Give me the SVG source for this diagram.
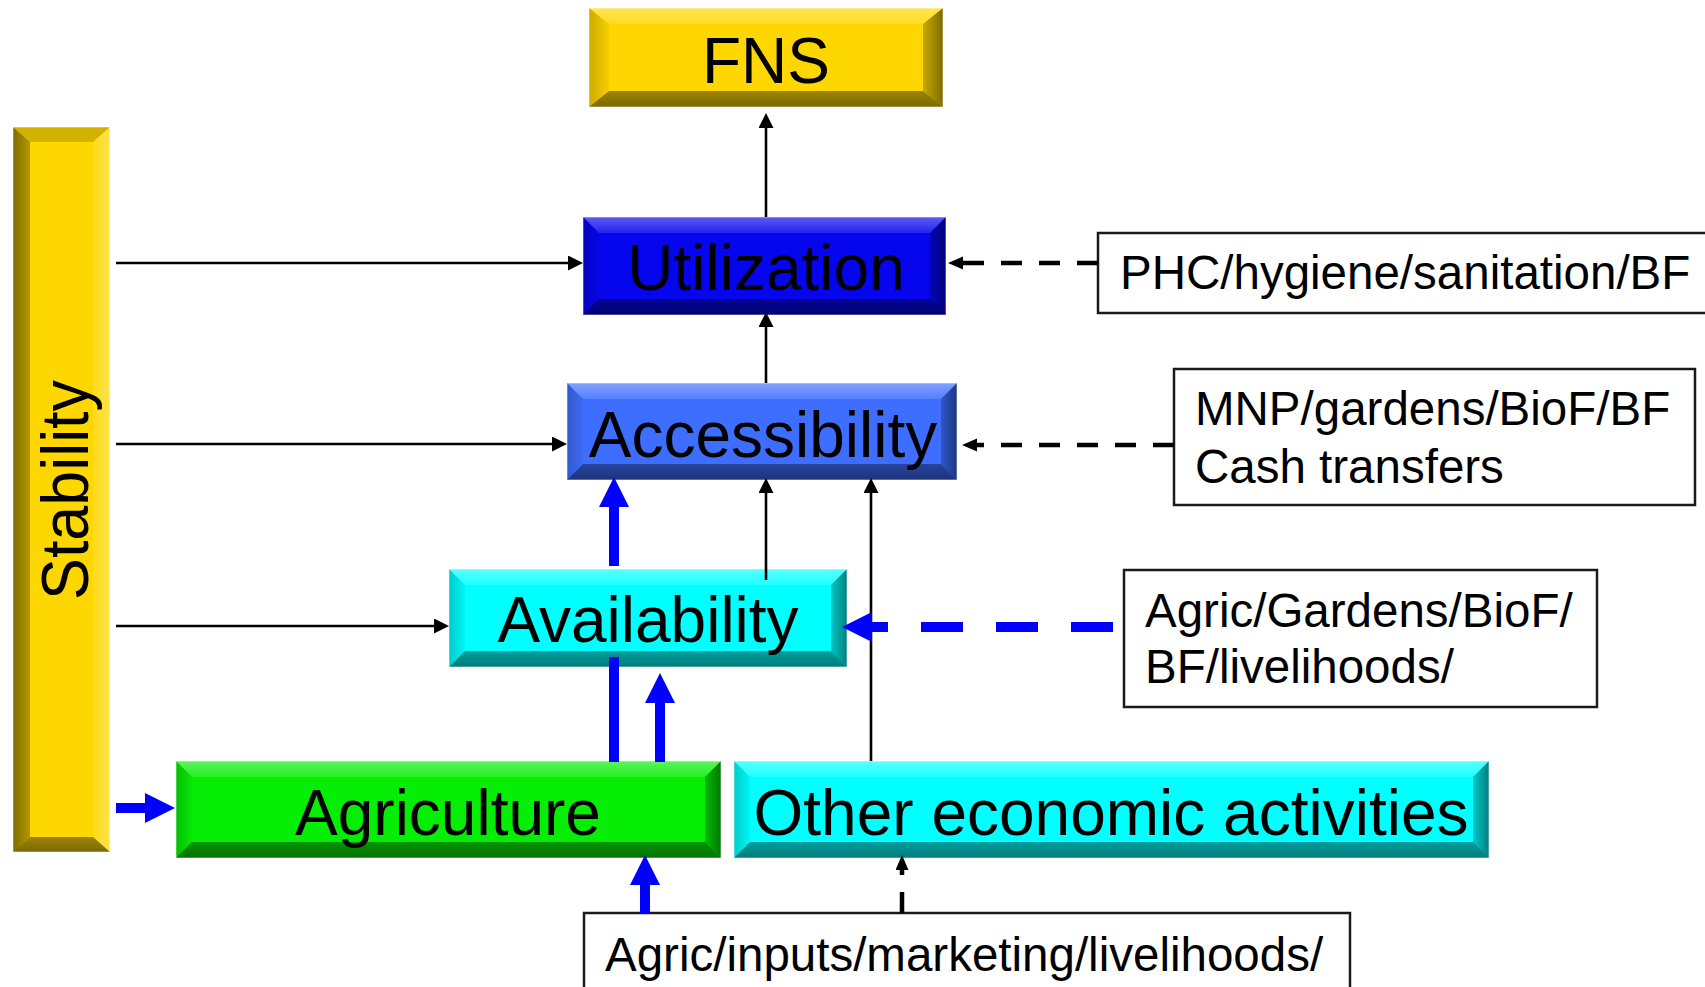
<svg xmlns="http://www.w3.org/2000/svg" width="1705" height="987" viewBox="0 0 1705 987">
<defs>
<style>
.t{font-family:"Liberation Sans",Arial,sans-serif;fill:#000}
.big{font-size:64px;text-anchor:middle}
.lbl{font-size:47.5px}
.ft{fill:url(#gTop)}
.fl{fill:url(#gLeft)}
.fr{fill:url(#gRight)}
.fb{fill:url(#gBot)}
.rim{fill:none;stroke:#ffffff;stroke-opacity:0.45;stroke-width:1.2}
.box{fill:#ffffff;stroke:#1a1a1a;stroke-width:2.5}
.thin{fill:none;stroke:#000;stroke-width:2.6;marker-end:url(#mBlack)}
.dash{fill:none;stroke:#000;stroke-width:4.5;stroke-dasharray:21 17;marker-end:url(#mDash)}
.blue{fill:none;stroke:#0000FF;stroke-width:10}
.bluea{fill:none;stroke:#0000FF;stroke-width:10;marker-end:url(#mBlue)}
.bdash{fill:none;stroke:#0000FF;stroke-width:10;stroke-dasharray:42 33;marker-end:url(#mBlue)}
</style>
<linearGradient id="gTop" x1="0" y1="0" x2="0" y2="1">
<stop offset="0" stop-color="#fff" stop-opacity="0.35"/>
<stop offset="1" stop-color="#fff" stop-opacity="0.12"/>
</linearGradient>
<linearGradient id="gLeft" x1="0" y1="0" x2="1" y2="0">
<stop offset="0" stop-color="#000" stop-opacity="0.2"/>
<stop offset="1" stop-color="#000" stop-opacity="0.04"/>
</linearGradient>
<linearGradient id="gRight" x1="0" y1="0" x2="1" y2="0">
<stop offset="0" stop-color="#000" stop-opacity="0.22"/>
<stop offset="1" stop-color="#000" stop-opacity="0.5"/>
</linearGradient>
<linearGradient id="gBot" x1="0" y1="0" x2="0" y2="1">
<stop offset="0" stop-color="#000" stop-opacity="0.38"/>
<stop offset="1" stop-color="#000" stop-opacity="0.52"/>
</linearGradient>
<linearGradient id="sRight" x1="0" y1="0" x2="1" y2="0">
<stop offset="0" stop-color="#fff" stop-opacity="0.1"/>
<stop offset="1" stop-color="#fff" stop-opacity="0.3"/>
</linearGradient>
<linearGradient id="sLeft" x1="0" y1="0" x2="1" y2="0">
<stop offset="0" stop-color="#000" stop-opacity="0.5"/>
<stop offset="1" stop-color="#000" stop-opacity="0.3"/>
</linearGradient>
<marker id="mBlack" markerUnits="userSpaceOnUse" markerWidth="16" markerHeight="15" refX="11" refY="7.5" orient="auto">
<path d="M0,0 L15,7.5 L0,15 Z" fill="#000"/>
</marker>
<marker id="mDash" markerUnits="userSpaceOnUse" markerWidth="16" markerHeight="14" refX="0" refY="6.5" orient="auto">
<path d="M0,0 L15,6.5 L0,13 Z" fill="#000"/>
</marker>
<marker id="mBlue" markerUnits="userSpaceOnUse" markerWidth="31" markerHeight="31" refX="0" refY="15" orient="auto">
<path d="M0,0 L30,15 L0,30 Z" fill="#0000FF"/>
</marker>
</defs>
<rect width="1705" height="987" fill="#ffffff"/>

<g id="node-fns">
<rect x="589" y="8" width="354" height="99" fill="#FFD700"/>
<polygon class="ft" points="589,8 943,8 923,24 609,24"/>
<polygon class="fl" points="589,8 609,24 609,91 589,107"/>
<polygon class="fr" points="943,8 943,107 923,91 923,24"/>
<polygon class="fb" points="589,107 609,91 923,91 943,107"/>
<rect class="rim" x="589" y="8" width="354" height="99"/>
<text class="t big" x="766" y="83">FNS</text>
</g>

<g id="node-stability">
<rect x="13" y="127" width="97" height="725" fill="#FFD700"/>
<polygon fill="#000" fill-opacity="0.17" points="13,127 110,127 93,142 30,142"/>
<polygon fill="url(#sLeft)" points="13,127 30,142 30,837 13,852"/>
<polygon fill="url(#sRight)" points="110,127 110,852 93,837 93,142"/>
<polygon class="fb" points="13,852 30,837 93,837 110,852"/>
<rect class="rim" x="13" y="127" width="97" height="725"/>
<text class="t" font-size="66" text-anchor="middle" textLength="220" lengthAdjust="spacingAndGlyphs" transform="translate(88,490) rotate(-90)">Stability</text>
</g>

<g id="node-utilization">
<rect x="583" y="217" width="363" height="98" fill="#0505EE"/>
<polygon class="ft" points="583,217 946,217 930,233 599,233"/>
<polygon class="fl" points="583,217 599,233 599,299 583,315"/>
<polygon class="fr" points="946,217 946,315 930,299 930,233"/>
<polygon class="fb" points="583,315 599,299 930,299 946,315"/>
<rect class="rim" x="583" y="217" width="363" height="98"/>
<text class="t big" x="766" y="290">Utilization</text>
</g>

<g id="node-accessibility">
<rect x="567" y="383" width="390" height="97" fill="#3E6EFF"/>
<polygon class="ft" points="567,383 957,383 941,399 583,399"/>
<polygon class="fl" points="567,383 583,399 583,464 567,480"/>
<polygon class="fr" points="957,383 957,480 941,464 941,399"/>
<polygon class="fb" points="567,480 583,464 941,464 957,480"/>
<rect class="rim" x="567" y="383" width="390" height="97"/>
<text class="t big" x="763" y="457">Accessibility</text>
</g>

<g id="node-availability">
<rect x="449" y="569" width="398" height="98" fill="#00FFFF"/>
<polygon class="ft" points="449,569 847,569 831,585 465,585"/>
<polygon class="fl" points="449,569 465,585 465,651 449,667"/>
<polygon class="fr" points="847,569 847,667 831,651 831,585"/>
<polygon class="fb" points="449,667 465,651 831,651 847,667"/>
<rect class="rim" x="449" y="569" width="398" height="98"/>
<text class="t big" x="648" y="642">Availability</text>
</g>

<g id="node-agriculture">
<rect x="176" y="761" width="545" height="97" fill="#06EE06"/>
<polygon class="ft" points="176,761 721,761 705,777 192,777"/>
<polygon class="fl" points="176,761 192,777 192,842 176,858"/>
<polygon class="fr" points="721,761 721,858 705,842 705,777"/>
<polygon class="fb" points="176,858 192,842 705,842 721,858"/>
<rect class="rim" x="176" y="761" width="545" height="97"/>
<text class="t big" x="448" y="835">Agriculture</text>
</g>

<g id="node-other">
<rect x="734" y="761" width="755" height="97" fill="#00FFFF"/>
<polygon class="ft" points="734,761 1489,761 1473,777 750,777"/>
<polygon class="fl" points="734,761 750,777 750,842 734,858"/>
<polygon class="fr" points="1489,761 1489,858 1473,842 1473,777"/>
<polygon class="fb" points="734,858 750,842 1473,842 1489,858"/>
<rect class="rim" x="734" y="761" width="755" height="97"/>
<text class="t big" x="1111" y="835">Other economic activities</text>
</g>

<g id="node-phc">
<rect class="box" x="1098" y="233" width="640" height="80"/>
<text class="t lbl" x="1120" y="289">PHC/hygiene/sanitation/BF</text>
</g>

<g id="node-mnp">
<rect class="box" x="1174" y="369" width="521" height="136"/>
<text class="t lbl" x="1195" y="425">MNP/gardens/BioF/BF</text>
<text class="t lbl" x="1195" y="483">Cash transfers</text>
</g>

<g id="node-agric-gardens">
<rect class="box" x="1124" y="570" width="473" height="137"/>
<text class="t lbl" x="1145" y="627">Agric/Gardens/BioF/</text>
<text class="t lbl" x="1145" y="683">BF/livelihoods/</text>
</g>

<g id="node-agric-inputs">
<rect class="box" x="584" y="913" width="766" height="100"/>
<text class="t lbl" x="605" y="971">Agric/inputs/marketing/livelihoods/</text>
</g>

<g id="connectors">
<path class="thin" d="M116,263 H579"/>
<path class="thin" d="M116,444 H563"/>
<path class="thin" d="M116,626 H445"/>
<path class="thin" d="M766,217 V117"/>
<path class="thin" d="M766,383 V316"/>
<path class="thin" d="M766,580 V482"/>
<path class="thin" d="M871,761 V482"/>
<path class="dash" d="M1098,263 H963"/>
<path class="dash" d="M1174,445 H977"/>
<path class="dash" d="M902,913 V870"/>
<path class="bluea" d="M614,566 V507"/>
<path class="blue" d="M614,762 V657"/>
<path class="bluea" d="M660,762 V703"/>
<path class="bluea" d="M116,808 H145"/>
<path class="bluea" d="M645,913 V885"/>
<path class="bdash" d="M1113,627 H872"/>
</g>
</svg>
